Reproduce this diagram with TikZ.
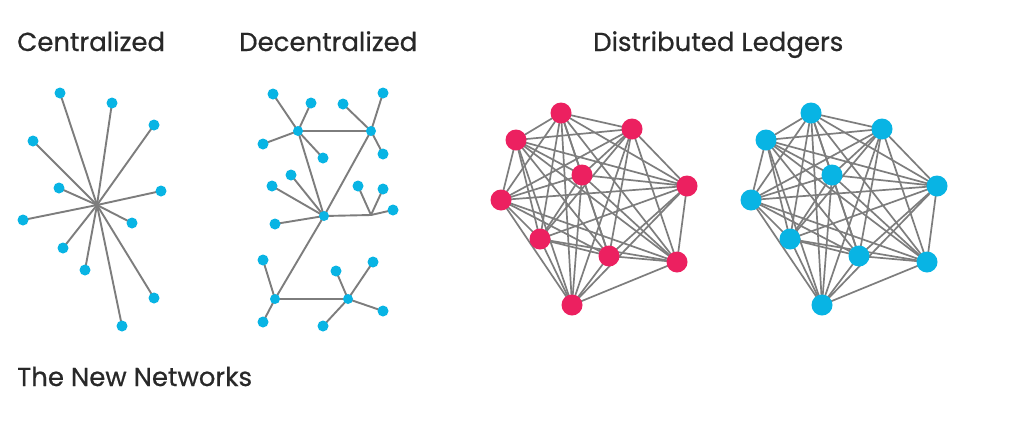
\documentclass[tikz,border=0pt]{standalone}
\usepackage{fontspec}
\setmainfont{Poppins}[FakeBold=0.6]
\begin{document}
\begin{tikzpicture}[x=1pt,y=-1pt,
  edge/.style={draw=lgray,line width=1.9pt},
  leaf/.style={circle,fill=cblue,inner sep=0pt,minimum size=11pt},
  hub/.style={circle,fill=cblue,inner sep=0pt,minimum size=10pt},
  big/.style={circle,inner sep=0pt,minimum size=21pt},
  title/.style={anchor=base west,font=\fontsize{26}{30}\selectfont,text=ink,inner sep=0pt}]
\definecolor{lgray}{RGB}{125,125,125}
\definecolor{cblue}{RGB}{8,180,228}
\definecolor{cred}{RGB}{236,32,96}
\definecolor{ink}{RGB}{40,40,40}
\useasboundingbox[fill=white] (0,0) rectangle (1012,421);
\node[title] (t1) at (17,51) {Centralized};
\node[title] (t2) at (239,51) {Decentralized};
\node[title] (t3) at (593,51) {Distributed Ledgers};
\node[title] (t4) at (17,386) {The New Networks};
% centralized
\coordinate (c0) at (97,205);
\foreach \i/\x/\y in {1/60/93,2/112/103,3/154/125,4/33/141,5/59/188,6/161/191,7/23/220,8/132/223,9/63/248,10/85/270,11/154/298,12/122/326}{
  \draw[edge] (c0) -- (\x,\y) node[leaf] (cl\i) {};
}
% decentralized
\coordinate (D) at (371,215);
\foreach \n/\x/\y in {A/298/131,B/371/131,C/324/216,E/275/299,F/348/299}{\coordinate (\n) at (\x,\y);}
\draw[edge] (A)--(B) (A)--(C) (B)--(C) (C)--(D) (C)--(E) (E)--(F);
\foreach \h/\x/\y [count=\k] in {A/273/94,A/311/103,A/263/144,A/323/158,B/343/104,B/383/93,B/383/154,C/272/186,C/291/175,C/275/224,D/358/186,D/383/189,D/393/210,E/263/260,E/263/322,F/336/271,F/373/262,F/383/311,F/323/326}{
  \draw[edge] (\h) -- (\x,\y) node[leaf] (dl\k) {};
}
\foreach \n in {A,B,C,E,F}{\node[hub] (h\n) at (\n) {};}
% distributed
\foreach \o/\col/\p in {0/cred/r,250/cblue/b}{
  \begin{scope}[xshift=\o]
  \foreach \i/\x/\y in {1/561/113,2/632/129,3/516/140,4/582/175,5/687/186,6/501/200,7/540/239,8/609/256,9/677/262,10/572/305}{
    \coordinate (\p\i) at (\x,\y);}
  \foreach \i in {1,...,10}{\foreach \j in {\i,...,10}{\ifnum\i<\j \draw[edge,line width=1.7pt] (\p\i)--(\p\j);\fi}}
  \foreach \i in {1,...,10}{\node[big,fill=\col] (n\p\i) at (\p\i) {};}
  \end{scope}
}
\end{tikzpicture}
\end{document}
